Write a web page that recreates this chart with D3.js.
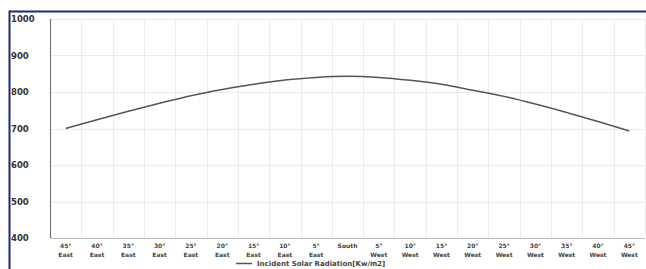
<!DOCTYPE html>
<html>
<head>
<meta charset="utf-8">
<script src="https://cdn.jsdelivr.net/npm/d3@7"></script>
<style>
  body { margin: 0; background: #fff; }
  svg { display: block; }
  .tick text { font-family: "DejaVu Sans", sans-serif; font-weight: bold; }
</style>
</head>
<body>
<script>
// data
var angles = ["45°", "40°", "35°", "30°", "25°", "20°", "15°", "10°", "5°", "South",
              "5°", "10°", "15°", "20°", "25°", "30°", "35°", "40°", "45°"];
var sides = ["East", "East", "East", "East", "East", "East", "East", "East", "East", "",
             "West", "West", "West", "West", "West", "West", "West", "West", "West"];
var radiation = [700, 724, 747, 769, 790, 807, 821, 833, 840, 843,
                 840, 832, 821, 805, 788, 767, 744, 719, 693];
var yTicks = [400, 500, 600, 700, 800, 900, 1000];
var seriesName = "Incident Solar Radiation[Kw/m2]";

var W = 646, H = 269;
var margin = {top: 19, right: 1, bottom: 31, left: 50};
var width = W - margin.left - margin.right;
var height = H - margin.top - margin.bottom;

var svg = d3.select("body").append("svg")
    .attr("width", W)
    .attr("height", H);

// navy frame around the figure
svg.append("line").attr("x1", 9).attr("x2", W).attr("y1", 11.5).attr("y2", 11.5)
    .attr("stroke", "#1b2c6b").attr("stroke-width", 2);
svg.append("line").attr("x1", 9.5).attr("x2", 9.5).attr("y1", 10.5).attr("y2", H)
    .attr("stroke", "#1b2c6b").attr("stroke-width", 2);

var g = svg.append("g")
    .attr("transform", "translate(" + margin.left + "," + margin.top + ")");

var idx = d3.range(angles.length);
var xScale = d3.scaleBand().domain(idx).range([0, width]);
var yScale = d3.scaleLinear().domain([400, 1000]).range([height, 0]);

// gridlines
g.append("g").selectAll("line")
    .data(yTicks)
    .enter().append("line")
    .attr("x1", 0).attr("x2", width)
    .attr("y1", function(d) { return Math.round(yScale(d)) + 0.5; })
    .attr("y2", function(d) { return Math.round(yScale(d)) + 0.5; })
    .attr("stroke", "#ebebeb");

g.append("g").selectAll("line")
    .data(idx.slice(1).concat([idx.length]))
    .enter().append("line")
    .attr("x1", function(d) { return Math.round(d * xScale.step()) + 0.5; })
    .attr("x2", function(d) { return Math.round(d * xScale.step()) + 0.5; })
    .attr("y1", 0).attr("y2", height)
    .attr("stroke", "#ebebeb");

// y axis
var yAxis = d3.axisLeft(yScale).tickValues(yTicks).tickSize(0).tickPadding(0)
    .tickFormat(d3.format("d"));
var yG = g.append("g").call(yAxis);
yG.select(".domain").remove();
yG.selectAll(".tick text")
    .attr("x", -39)
    .attr("text-anchor", "start")
    .attr("dy", "0.35em")
    .attr("font-size", 8.5)
    .attr("fill", "#333");

g.append("line").attr("x1", 0.5).attr("x2", 0.5).attr("y1", 0).attr("y2", height)
    .attr("stroke", "#777").attr("stroke-width", 1.2);
g.append("line").attr("x1", 0).attr("x2", width)
    .attr("y1", height + 0.5).attr("y2", height + 0.5)
    .attr("stroke", "#bbb");

// x axis, two-line labels
var xAxis = d3.axisBottom(xScale).tickSize(0).tickFormat(function(d) { return angles[d]; });
var xG = g.append("g")
    .attr("transform", "translate(0," + height + ")")
    .call(xAxis);
xG.select(".domain").remove();
xG.selectAll(".tick text")
    .attr("y", 10)
    .attr("dy", 0)
    .attr("font-size", 6)
    .attr("fill", "#444");
xG.selectAll(".tick").append("text")
    .attr("y", 19)
    .attr("text-anchor", "middle")
    .attr("font-size", 6)
    .attr("fill", "#444")
    .text(function(d) { return sides[d]; });

// the curve
var line = d3.line()
    .x(function(d, i) { return xScale(i) + xScale.bandwidth() / 2; })
    .y(function(d) { return yScale(d); })
    .curve(d3.curveMonotoneX);

g.append("path")
    .datum(radiation)
    .attr("fill", "none")
    .attr("stroke", "#555")
    .attr("stroke-width", 1.5)
    .attr("d", line);

// legend at the bottom edge
var leg = svg.append("g").attr("transform", "translate(236,266)");
leg.append("line").attr("x1", 0).attr("x2", 16).attr("y1", -2.5).attr("y2", -2.5)
    .attr("stroke", "#555").attr("stroke-width", 1.5);
leg.append("text")
    .attr("x", 21)
    .attr("y", 0)
    .attr("font-family", "DejaVu Sans, sans-serif")
    .attr("font-weight", "bold")
    .attr("font-size", 7)
    .attr("fill", "#444")
    .text(seriesName);
</script>
</body>
</html>
